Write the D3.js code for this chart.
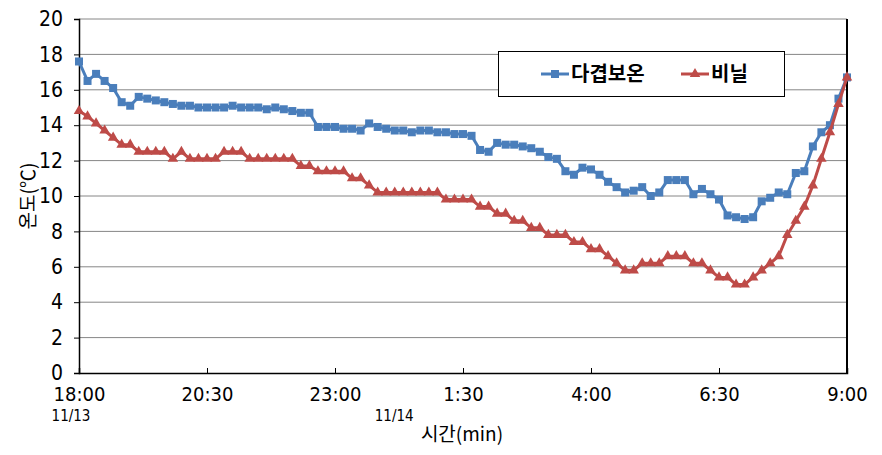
<!DOCTYPE html>
<html>
<head>
<meta charset="utf-8">
<script src="https://cdn.jsdelivr.net/npm/d3@7"></script>
<style>
  body { margin: 0; background: #fff; }
  text { font-family: "Liberation Sans Narrow", "DejaVu Sans Condensed", "Liberation Sans", sans-serif; }
  .kr { font-family: "Noto Sans CJK KR", sans-serif; }
</style>
</head>
<body>
<script>
// temperature every 10 min from 18:00 (11/13) to 9:00 (11/14)
var multiLayer = [17.6, 16.5, 16.9, 16.5, 16.1, 15.3, 15.1, 15.6, 15.5, 15.4,
    15.3, 15.2, 15.1, 15.1, 15.0, 15.0, 15.0, 15.0, 15.1, 15.0,
    15.0, 15.0, 14.9, 15.0, 14.9, 14.8, 14.7, 14.7, 13.9, 13.9,
    13.9, 13.8, 13.8, 13.7, 14.1, 13.9, 13.8, 13.7, 13.7, 13.6,
    13.7, 13.7, 13.6, 13.6, 13.5, 13.5, 13.4, 12.6, 12.5, 13.0,
    12.9, 12.9, 12.8, 12.7, 12.5, 12.2, 12.1, 11.4, 11.2, 11.6,
    11.5, 11.2, 10.8, 10.5, 10.2, 10.3, 10.5, 10.0, 10.2, 10.9,
    10.9, 10.9, 10.1, 10.4, 10.1, 9.8, 8.9, 8.8, 8.7, 8.8,
    9.7, 9.9, 10.2, 10.1, 11.3, 11.4, 12.8, 13.6, 14.0, 15.5,
    16.7];

var vinyl = [14.8, 14.5, 14.1, 13.7, 13.3, 12.9, 12.9, 12.5, 12.5, 12.5,
    12.5, 12.1, 12.5, 12.1, 12.1, 12.1, 12.1, 12.5, 12.5, 12.5,
    12.1, 12.1, 12.1, 12.1, 12.1, 12.1, 11.7, 11.7, 11.4, 11.4,
    11.4, 11.4, 11.0, 11.0, 10.6, 10.2, 10.2, 10.2, 10.2, 10.2,
    10.2, 10.2, 10.2, 9.8, 9.8, 9.8, 9.8, 9.4, 9.4, 9.0,
    9.0, 8.6, 8.6, 8.2, 8.2, 7.8, 7.8, 7.8, 7.4, 7.4,
    7.0, 7.0, 6.6, 6.2, 5.8, 5.8, 6.2, 6.2, 6.2, 6.6,
    6.6, 6.6, 6.2, 6.2, 5.8, 5.4, 5.4, 5.0, 5.0, 5.4,
    5.8, 6.2, 6.6, 7.8, 8.6, 9.4, 10.6, 12.1, 13.6, 15.2,
    16.7];

var seriesNames = ["다겹보온", "비닐"];
var timeTicks = ["18:00", "20:30", "23:00", "1:30", "4:00", "6:30", "9:00"];
var tickMinutes = [0, 150, 300, 450, 600, 750, 900];
var dateLabels = ["11/13", "11/14"];
var dateMinutes = [0, 360];
var stepMin = 10;

var width = 882, height = 455;
var margin = {left: 79, right: 35, top: 19, bottom: 82};

var svg = d3.select("body").append("svg")
    .attr("width", width)
    .attr("height", height);

svg.append("rect").attr("width", width).attr("height", height).attr("fill", "#fff");

var x = d3.scaleLinear().domain([0, 900]).range([margin.left, width - margin.right]);
var y = d3.scaleLinear().domain([0, 20]).range([height - margin.bottom, margin.top]);

// gridlines
svg.append("g")
    .selectAll("line")
    .data(d3.range(2, 21, 2))
    .enter().append("line")
    .attr("x1", x(0)).attr("x2", x(900))
    .attr("y1", function (d) { return y(d); })
    .attr("y2", function (d) { return y(d); })
    .attr("stroke", "#868686")
    .attr("stroke-width", 1);

// y axis
var yAxis = svg.append("g")
    .attr("transform", "translate(" + x(0) + ",0)")
    .call(d3.axisLeft(y).tickValues(d3.range(0, 21, 2)).tickSize(5).tickPadding(11));
yAxis.select(".domain").attr("stroke", "#000").attr("stroke-width", 1.5);
yAxis.selectAll(".tick line").attr("stroke", "#000");
yAxis.selectAll("text").attr("font-size", 21).attr("fill", "#000")
    .style("font-family", null);

// right border
svg.append("line")
    .attr("x1", x(900)).attr("x2", x(900))
    .attr("y1", y(20)).attr("y2", y(0))
    .attr("stroke", "#000").attr("stroke-width", 2);

// x axis
var xAxis = svg.append("g")
    .attr("transform", "translate(0," + y(0) + ")")
    .call(d3.axisBottom(x).tickValues(tickMinutes).tickSize(-5).tickPadding(14)
        .tickFormat(function (d, i) { return timeTicks[i]; }));
xAxis.select(".domain").attr("stroke", "#000").attr("stroke-width", 1.5);
xAxis.selectAll(".tick line").attr("stroke", "#000");
xAxis.selectAll("text").attr("font-size", 20).attr("fill", "#000")
    .style("font-family", null);

svg.append("g")
    .selectAll("text")
    .data(dateLabels)
    .enter().append("text")
    .attr("x", function (d, i) { return x(dateMinutes[i]) + (i == 0 ? -8 : 8); })
    .attr("y", 421)
    .attr("text-anchor", "middle")
    .attr("font-size", 15)
    .text(function (d) { return d; });

// axis titles
svg.append("text")
    .attr("class", "kr")
    .attr("x", 462).attr("y", 441)
    .attr("text-anchor", "middle")
    .attr("font-size", 19)
    .text("시간(min)");

svg.append("text")
    .attr("class", "kr")
    .attr("transform", "translate(35,196) rotate(-90)")
    .attr("text-anchor", "middle")
    .attr("font-size", 19)
    .text("온도(℃)");

// series
var line = d3.line()
    .x(function (d, i) { return x(i * stepMin); })
    .y(function (d) { return y(d); });

var blue = "#4A7EBB", red = "#BE4B48";

svg.append("path")
    .datum(multiLayer)
    .attr("d", line)
    .attr("fill", "none")
    .attr("stroke", blue)
    .attr("stroke-width", 3)
    .attr("stroke-linejoin", "round");

svg.append("g")
    .selectAll("rect")
    .data(multiLayer)
    .enter().append("rect")
    .attr("x", function (d, i) { return x(i * stepMin) - 4; })
    .attr("y", function (d) { return y(d) - 4; })
    .attr("width", 8).attr("height", 8)
    .attr("fill", blue);

svg.append("path")
    .datum(vinyl)
    .attr("d", line)
    .attr("fill", "none")
    .attr("stroke", red)
    .attr("stroke-width", 3)
    .attr("stroke-linejoin", "round");

var tri = d3.symbol().type(d3.symbolTriangle).size(48);
svg.append("g")
    .selectAll("path")
    .data(vinyl)
    .enter().append("path")
    .attr("d", tri)
    .attr("transform", function (d, i) { return "translate(" + x(i * stepMin) + "," + y(d) + ")"; })
    .attr("fill", red);

// legend
var legend = svg.append("g");
legend.append("rect")
    .attr("x", 498.5).attr("y", 51.5)
    .attr("width", 286).attr("height", 45)
    .attr("fill", "#fff").attr("stroke", "#000").attr("stroke-width", 1);

var legendX = [541, 681];
var colors = [blue, red];
seriesNames.forEach(function (name, i) {
    var lx = legendX[i];
    legend.append("line")
        .attr("x1", lx).attr("x2", lx + 28)
        .attr("y1", 74).attr("y2", 74)
        .attr("stroke", colors[i]).attr("stroke-width", 3);
    if (i == 0) {
        legend.append("rect").attr("x", lx + 10).attr("y", 70).attr("width", 8).attr("height", 8).attr("fill", blue);
    } else {
        legend.append("path").attr("d", tri).attr("transform", "translate(" + (lx + 14) + ",74)").attr("fill", red);
    }
    legend.append("text")
        .attr("class", "kr")
        .attr("x", lx + 30).attr("y", 81)
        .attr("font-size", 20)
        .attr("font-weight", "bold")
        .text(name);
});
</script>
</body>
</html>
